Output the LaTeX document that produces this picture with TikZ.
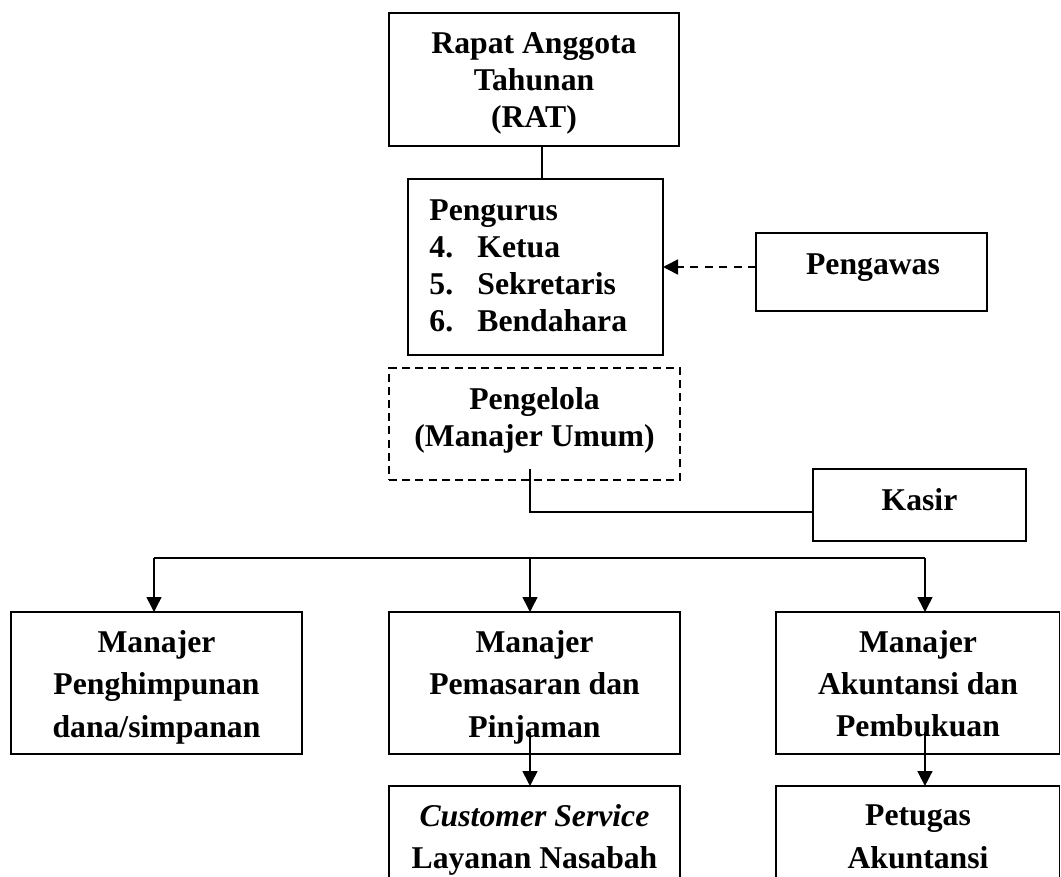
\documentclass[tikz,border=0pt]{standalone}
\usepackage{fontspec}
\setmainfont{Liberation Serif}
\usetikzlibrary{arrows.meta}
\begin{document}
\begin{tikzpicture}[x=0.5pt, y=-0.5pt,
  box/.style={draw, line width=0.8pt, inner sep=0pt, outer sep=0pt},
  dbox/.style={box, dash pattern=on 4pt off 2.6pt},
  txt/.style={inner sep=0pt, align=center, font=\fontsize{15.85}{18.5}\selectfont\bfseries},
  txtb/.style={txt, font=\fontsize{15.85}{21.2}\selectfont\bfseries},
  conn/.style={line width=0.8pt},
  arr/.style={conn, -{Triangle[length=7.5pt,width=7.5pt]}},
  darr/.style={arr, dash pattern=on 4pt off 3.2pt},
]
\clip (0,0) rectangle (1061,877);
\fill[white] (0,0) rectangle (1061,877);

% boxes
\node[box, minimum width=145pt, minimum height=66.5pt] (rat) at (534,79.5) {};
\node[box, minimum width=127.5pt, minimum height=88pt] (pengurus) at (535.5,267) {};
\node[box, minimum width=115.5pt, minimum height=39pt] (pengawas) at (871.5,272) {};
\node[dbox, minimum width=145.5pt, minimum height=56pt] (pengelola) at (534.5,424) {};
\node[box, minimum width=106.5pt, minimum height=36pt] (kasir) at (919.5,505) {};
\node[box, minimum width=145.5pt, minimum height=71pt] (left) at (156.5,683) {};
\node[box, minimum width=145.5pt, minimum height=71pt] (mid) at (534.5,683) {};
\node[box, minimum width=141.75pt, minimum height=71pt] (right) at (917.75,683) {};
\node[box, minimum width=145.5pt, minimum height=54.5pt] (cs) at (534.5,840.5) {};
\node[box, minimum width=141.75pt, minimum height=54.5pt] (petugas) at (917.75,840.5) {};

% texts
\node[txt] (trat) at (534,83.3) {Rapat Anggota\\Tahunan\\(RAT)};
\node[txt, align=left, anchor=west] (tpengurus) at (429,265.7)
  {Pengurus\\\makebox[24pt][l]{4.}Ketua\\\makebox[24pt][l]{5.}Sekretaris\\\makebox[24pt][l]{6.}Bendahara};
\node[txt] (tpengawas) at (873,268) {Pengawas};
\node[txt] (tpengelola) at (534.5,420.2) {Pengelola\\(Manajer Umum)};
\node[txt] (tkasir) at (919.5,500) {Kasir};
\node[txtb] (tleft) at (156.5,687) {Manajer\\Penghimpunan\\dana/simpanan};
\node[txtb] (tmid) at (534.5,687) {Manajer\\Pemasaran dan\\Pinjaman};
\node[txtb] (tright) at (918,683.7) {Manajer\\Akuntansi dan\\Pembukuan};
\node[txtb] (tcs) at (534.5,840.2) {\textit{Customer Service}\\Layanan Nasabah};
\node[txtb] (tpet) at (918,837) {Petugas\\Akuntansi};

% connectors
\draw[conn] ([xshift=4pt]rat.south) -- ([xshift=4pt]rat.south |- pengurus.north);
\draw[darr] (pengurus.east -| pengawas.west) -- (pengurus.east);
\draw[conn] ([xshift=-2.25pt,yshift=5.5pt]pengelola.south)
  |- ([yshift=-3.5pt]kasir.west);

\coordinate (busL) at (154,558);
\coordinate (busM) at (530,558);
\coordinate (busR) at (925,558);
\draw[conn] (busL) -- (busR);
\draw[arr] (busL) -- (busL |- left.north);
\draw[arr] (busM) -- (busM |- mid.north);
\draw[arr] (busR) -- (busR |- right.north);

\draw[arr] ([xshift=-2.25pt,yshift=11pt]mid.south) -- ([xshift=-2.25pt]cs.north);
\draw[arr] ([xshift=3.6pt,yshift=11pt]right.south) -- ([xshift=3.6pt]petugas.north);
\end{tikzpicture}
\end{document}
